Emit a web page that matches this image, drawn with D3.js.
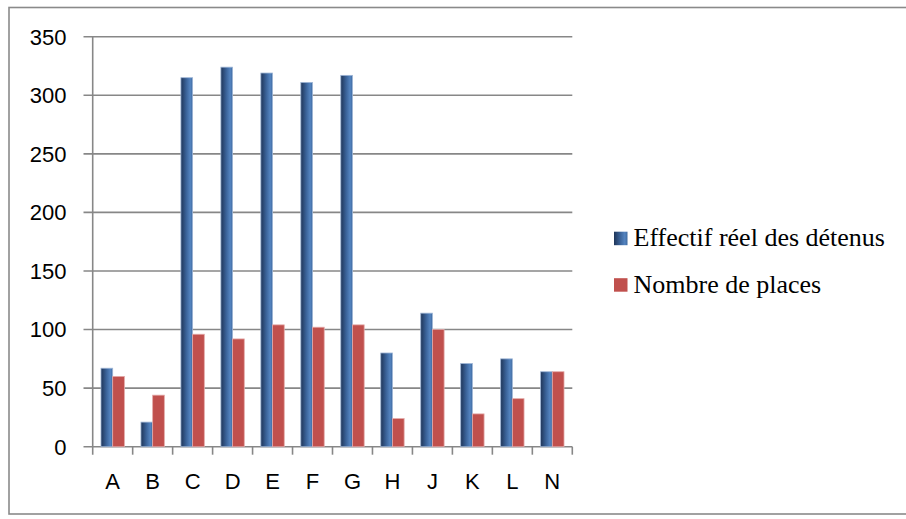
<!DOCTYPE html>
<html>
<head>
<meta charset="utf-8">
<script src="https://cdn.jsdelivr.net/npm/d3@7"></script>
<style>
  body { margin: 0; background: #fff; }
  svg { display: block; }
</style>
</head>
<body>
<svg id="chart" width="906" height="519"></svg>
<script>
// data
const categories = ["A", "B", "C", "D", "E", "F", "G", "H", "J", "K", "L", "N"];
const effectif = [67, 21, 315, 324, 319, 311, 317, 80, 114, 71, 75, 64];
const places = [60, 44, 96, 92, 104, 102, 104, 24, 100, 28, 41, 64];
const seriesNames = ["Effectif réel des détenus", "Nombre de places"];
const yTicks = [0, 50, 100, 150, 200, 250, 300, 350];

const svg = d3.select("#chart");
const margin = {left: 92.7, right: 572.3, top: 36.7, bottom: 446.7};
const gridColor = "#878787";

// outer frame
svg.append("rect")
    .attr("x", 9).attr("y", 7.5)
    .attr("width", 910).attr("height", 506.5)
    .style("fill", "none")
    .style("stroke", "#8a8a8a")
    .style("stroke-width", "1.6px");

const x = d3.scaleBand()
    .domain(categories)
    .range([margin.left, margin.right])
    .paddingInner(0).paddingOuter(0);

const y = d3.scaleLinear()
    .domain([0, 350])
    .range([margin.bottom, margin.top]);

const groupW = x.bandwidth() * 0.585;
const x1 = d3.scaleBand()
    .domain([0, 1])
    .range([(x.bandwidth() - groupW) / 2, (x.bandwidth() + groupW) / 2]);

// gradient for the blue bars
const defs = svg.append("defs");
const grad = defs.append("linearGradient")
    .attr("id", "blueGrad")
    .attr("x1", "0%").attr("x2", "100%").attr("y1", "0%").attr("y2", "0%");
grad.append("stop").attr("offset", "0%").attr("stop-color", "#1f3558");
grad.append("stop").attr("offset", "45%").attr("stop-color", "#3a6298");
grad.append("stop").attr("offset", "80%").attr("stop-color", "#5484c0");
grad.append("stop").attr("offset", "100%").attr("stop-color", "#3f6a9f");

// horizontal grid lines (they run out past the axis as tick marks)
svg.append("g")
    .selectAll("line")
    .data(yTicks)
    .enter()
    .append("line")
    .attr("x1", 83.5)
    .attr("x2", margin.right)
    .attr("y1", d => y(d))
    .attr("y2", d => y(d))
    .style("stroke", gridColor)
    .style("stroke-width", "1.6px");

// y axis labels
svg.append("g")
    .selectAll("text")
    .data(yTicks)
    .enter()
    .append("text")
    .attr("x", 66.5)
    .attr("y", d => y(d))
    .attr("dy", "0.36em")
    .attr("text-anchor", "end")
    .text(d => d)
    .style("font-family", "'Liberation Sans', Arial, sans-serif")
    .style("font-size", "22px")
    .style("fill", "#000");

// bars
const rows = categories.map((c, i) => ({cat: c, vals: [effectif[i], places[i]]}));
const groups = svg.append("g")
    .selectAll("g")
    .data(rows)
    .enter()
    .append("g")
    .attr("transform", d => "translate(" + x(d.cat) + ",0)");

groups.selectAll("rect")
    .data(d => d.vals.map((v, k) => ({k: k, v: v})))
    .enter()
    .append("rect")
    .attr("x", d => x1(d.k))
    .attr("width", x1.bandwidth())
    .attr("y", d => y(d.v))
    .attr("height", d => y(0) - y(d.v))
    .style("fill", d => d.k === 0 ? "url(#blueGrad)" : "#c0504d")
    .style("stroke", d => d.k === 0 ? "#9fb6d6" : "#e3a9a8")
    .style("stroke-width", "0.8px");

// y axis line, extended below baseline like the category ticks
svg.append("line")
    .attr("x1", margin.left).attr("x2", margin.left)
    .attr("y1", margin.top).attr("y2", margin.bottom + 8)
    .style("stroke", gridColor)
    .style("stroke-width", "1.6px");

// category tick marks
const bounds = categories.map(c => x(c)).concat([margin.right]);
svg.append("g")
    .selectAll("line")
    .data(bounds.slice(1))
    .enter()
    .append("line")
    .attr("x1", d => d).attr("x2", d => d)
    .attr("y1", margin.bottom).attr("y2", margin.bottom + 8)
    .style("stroke", gridColor)
    .style("stroke-width", "1.6px");

// category labels
svg.append("g")
    .selectAll("text")
    .data(categories)
    .enter()
    .append("text")
    .attr("x", d => x(d) + x.bandwidth() / 2)
    .attr("y", 489)
    .attr("text-anchor", "middle")
    .text(d => d)
    .style("font-family", "'Liberation Sans', Arial, sans-serif")
    .style("font-size", "22px")
    .style("fill", "#000");

// legend
const legend = svg.append("g")
    .selectAll("g")
    .data(seriesNames)
    .enter()
    .append("g")
    .attr("transform", (d, i) => "translate(614," + (231.7 + i * 46.5) + ")");

legend.append("rect")
    .attr("width", 13.5)
    .attr("height", 13.5)
    .style("fill", (d, i) => i === 0 ? "url(#blueGrad)" : "#c0504d");

legend.append("text")
    .attr("x", 19.5)
    .attr("y", 14.5)
    .text(d => d)
    .style("font-family", "'Liberation Serif', 'Times New Roman', serif")
    .style("font-size", "26px")
    .style("fill", "#000");
</script>
</body>
</html>
